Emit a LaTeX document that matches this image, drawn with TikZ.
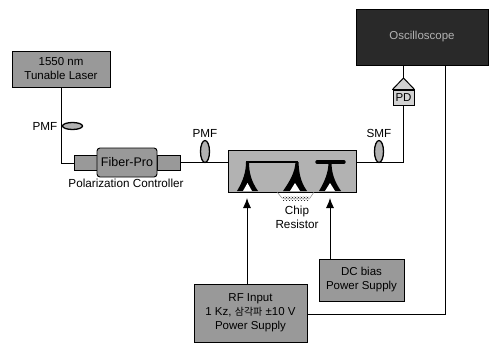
\documentclass[tikz,border=0pt]{standalone}
\usepackage{fontspec}
\setmainfont{Liberation Sans}
\newfontfamily\cjk{Noto Sans CJK KR}
\usetikzlibrary{arrows.meta,patterns,shapes.geometric}
\definecolor{boxgrey}{gray}{0.60}
\definecolor{darkgrey}{gray}{0.16}
\definecolor{chipgrey}{gray}{0.70}
\tikzset{
 x=1pt,y=-1pt,
 wire/.style={draw=black,line width=0.9pt},
 arrowwire/.style={wire,-{Latex[length=10pt,width=8pt]}},
 lab/.style={font=\fontsize{11.7}{14}\selectfont,align=center,inner sep=0pt,text=black},
 graybox/.style={draw=black,line width=0.9pt,fill=boxgrey,inner sep=0pt,align=center,font=\fontsize{11.5}{14}\selectfont},
 coil/.style={ellipse,draw=black,line width=1.3pt,fill=gray!60,inner sep=0pt},
 taper/.style={fill=black,draw=none}
}
\begin{document}
\begin{tikzpicture}
\useasboundingbox (0,0) rectangle (490,343);
% boxes
\node[graybox,minimum width=98pt,minimum height=36pt] (laser) at (61,69) {1550 nm\\Tunable Laser};
\node[graybox,minimum width=23pt,minimum height=15pt] (fl) at (85.5,162.5) {};
\node[graybox,minimum width=23pt,minimum height=15pt] (fr) at (168.5,162.5) {};
\node[graybox,rounded corners=3pt,minimum width=60pt,minimum height=29pt,font=\fontsize{12.5}{14}\selectfont] (fp) at (127,162.5) {Fiber-Pro};
\node[draw=black,line width=1pt,fill=chipgrey,minimum width=128pt,minimum height=42pt,inner sep=0pt] (chip) at (292,171) {};
\node[graybox,minimum width=85pt,minimum height=42pt] (dc) at (361.5,280) {DC bias\\Power Supply};
\node[graybox,minimum width=113pt,minimum height=58pt] (rf) at (250.5,313) {RF Input\\1 Kz, {\cjk\fontsize{10}{14}\selectfont 삼각파} ±10 V\\Power Supply};
\node[draw=black,line width=1pt,fill=darkgrey,text=gray!60,minimum width=132pt,minimum height=56pt,inner sep=0pt,font=\fontsize{11.5}{14}\selectfont] (scope) at (422,37) {Oscilloscope};
\node[draw=black,line width=1pt,fill=gray!35,minimum width=21pt,minimum height=15pt,inner sep=0pt,font=\fontsize{11.5}{14}\selectfont] (pd) at (403.5,97.5) {PD};
\coordinate (pdtop) at (403.5,78);
\fill[gray!35,draw=black,line width=1pt,line join=round] (pd.north west) -- (pdtop) -- (pd.north east) -- cycle;
% coordinates
\coordinate (a) at (61.5,163);
\coordinate (b) at (403.5,162);
\coordinate (c) at (445.5,314);
\coordinate (cc) at (445.5,65);
\coordinate (t1) at (247,198);
\coordinate (t3) at (330,198);
% wires
\draw[wire] (laser.south -| a) -- (a) -- (fl.west |- a);
\draw[wire] (fr.east |- 0,162) -- (chip.west |- 0,162);
\draw[wire] (chip.east |- b) -- (b) -- (pd.south);
\draw[wire] (pdtop) -- (scope.south -| pdtop);
\draw[wire] (rf.east |- c) -- (c) -- (cc);
% coils
\node[coil,minimum width=20pt,minimum height=7pt] (c1) at (72.5,126) {};
\node[coil,minimum width=9pt,minimum height=22pt] (c2) at (205,151.5) {};
\node[coil,minimum width=9pt,minimum height=22pt] (c3) at (379,151.5) {};
% labels
\node[lab] (l1) at (45,126) {PMF};
\node[lab] (l2) at (205,133) {PMF};
\node[lab] (l3) at (379,133) {SMF};
\node[lab] (l4) at (126,183.5) {Polarization Controller};
\node[lab] (l5) at (297,217) {Chip\\Resistor};
% chip structure
\draw[taper] (237,191) .. controls (243,181) and (246,172) .. (246,162) -- (249,162) .. controls (249,172) and (251,181) .. (258,191) -- cycle;
\draw[taper] (283,191) .. controls (290,181) and (295,172) .. (295.5,162) -- (298.5,162) .. controls (299,172) and (300,181) .. (307,191) -- cycle;
\draw[taper] (319,191) .. controls (325,181) and (328.5,172) .. (328.5,162) -- (331.5,162) .. controls (331.5,172) and (334,181) .. (341,191) -- cycle;
\fill[white] (243,191) -- (247.5,183) -- (252,191) -- cycle;
\fill[white] (290,191) -- (295,183) -- (300,191) -- cycle;
\fill[white] (325,191) -- (330,183) -- (335,191) -- cycle;
\draw[black,line width=1.8pt] (246,162) -- (298,162);
\draw[black,line width=3.4pt,line cap=round] (317,162) -- (344,162);
% resistor
\draw[gray,line width=.5pt] (277,192) -- (282,198) -- (310,198) -- (314,192);
\node[draw=none,pattern=crosshatch dots,minimum width=26pt,minimum height=4pt,inner sep=0pt] (res) at (296,198) {};
% arrows
\draw[arrowwire] (rf.north -| t1) -- (t1);
\draw[arrowwire] (dc.north -| t3) -- (t3);
\end{tikzpicture}
\end{document}
